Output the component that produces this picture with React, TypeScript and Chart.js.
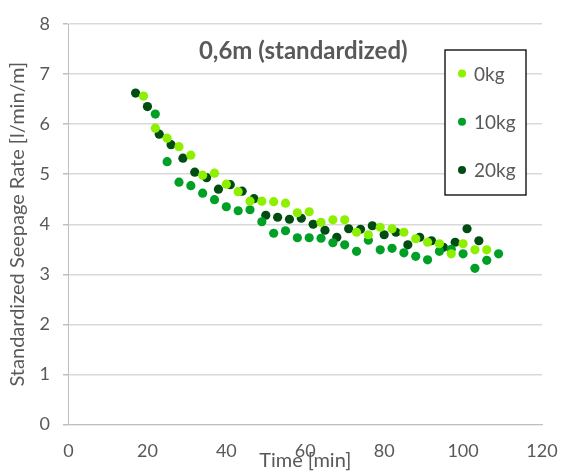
import React, { useEffect, useRef } from "react";
import { Chart, registerables } from "chart.js";

Chart.register(...registerables);

const chartTitle = "0,6m (standardized)";
const xAxisTitle = "Time [min]";
const yAxisTitle = "Standardized Seepage Rate [l/min/m]";
const seriesNames = ["0kg", "10kg", "20kg"];
const seriesColors = ["#8CF000", "#00A026", "#004D12"];

const time0kg = [19, 22, 25, 28, 31, 34, 37, 40, 43, 46, 49, 52, 55, 58, 61, 64, 67, 70, 73, 76, 79, 82, 85, 88, 91, 94, 97, 100, 103, 106];
const rate0kg = [6.56, 5.92, 5.72, 5.55, 5.38, 4.98, 5.02, 4.8, 4.65, 4.46, 4.46, 4.45, 4.42, 4.23, 4.25, 4.04, 4.09, 4.09, 3.84, 3.79, 3.94, 3.91, 3.84, 3.71, 3.64, 3.61, 3.41, 3.61, 3.49, 3.49];

const time10kg = [22, 25, 28, 31, 34, 37, 40, 43, 46, 49, 52, 55, 58, 61, 64, 67, 70, 73, 76, 79, 82, 85, 88, 91, 94, 97, 100, 103, 106, 109];
const rate10kg = [6.2, 5.25, 4.84, 4.77, 4.62, 4.49, 4.35, 4.27, 4.29, 4.05, 3.82, 3.87, 3.73, 3.73, 3.72, 3.63, 3.59, 3.46, 3.68, 3.49, 3.52, 3.43, 3.36, 3.29, 3.46, 3.5, 3.41, 3.12, 3.28, 3.41];

const time20kg = [17, 20, 23, 26, 29, 32, 35, 38, 41, 44, 47, 50, 53, 56, 59, 62, 65, 68, 71, 74, 77, 80, 83, 86, 89, 92, 95, 98, 101, 104];
const rate20kg = [6.62, 6.35, 5.8, 5.59, 5.32, 5.04, 4.93, 4.7, 4.79, 4.66, 4.51, 4.18, 4.14, 4.1, 4.12, 4.0, 3.88, 3.74, 3.91, 3.9, 3.97, 3.79, 3.84, 3.59, 3.74, 3.67, 3.54, 3.64, 3.91, 3.67];

const xTicks = [0, 20, 40, 60, 80, 100, 120];
const yTicks = [0, 1, 2, 3, 4, 5, 6, 7, 8];

const FONT = "Lato, 'Open Sans', sans-serif";
const TEXT = "#595959";

const toPoints = (xs: number[], ys: number[]) => xs.map((x, i) => ({ x, y: ys[i] }));

const titlePlugin = {
  id: "innerTitle",
  afterDraw(chart: any) {
    const { ctx, chartArea } = chart;
    ctx.save();
    ctx.font = `bold 24px ${FONT}`;
    ctx.fillStyle = TEXT;
    ctx.textAlign = "center";
    ctx.textBaseline = "middle";
    ctx.fillText(chartTitle, (chartArea.left + chartArea.right) / 2 - 2, chartArea.top + 27);
    ctx.restore();
  },
};

const legendPlugin = {
  id: "boxLegend",
  afterDraw(chart: any) {
    const { ctx, chartArea } = chart;
    const right = chartArea.right - 16;
    const left = right - 81;
    const top = chartArea.top + 26;
    const height = 145;
    ctx.save();
    ctx.fillStyle = "#ffffff";
    ctx.fillRect(left, top, right - left, height);
    ctx.strokeStyle = "#000000";
    ctx.lineWidth = 1.3;
    ctx.strokeRect(left, top, right - left, height);
    ctx.font = `19px ${FONT}`;
    ctx.textBaseline = "middle";
    ctx.textAlign = "left";
    chart.data.datasets.forEach((ds: any, i: number) => {
      const y = top + 23.5 + i * 48.3;
      ctx.beginPath();
      ctx.arc(left + 17, y, 4, 0, Math.PI * 2);
      ctx.fillStyle = ds.backgroundColor;
      ctx.fill();
      ctx.fillStyle = TEXT;
      ctx.fillText(ds.label, left + 29, y + 1);
    });
    ctx.restore();
  },
};

export default function App() {
  const ref = useRef<HTMLCanvasElement | null>(null);

  useEffect(() => {
    if (!ref.current) return;
    const chart = new Chart(ref.current, {
      type: "scatter",
      data: {
        datasets: [
          { label: seriesNames[0], data: toPoints(time0kg, rate0kg), backgroundColor: seriesColors[0], borderColor: seriesColors[0] },
          { label: seriesNames[1], data: toPoints(time10kg, rate10kg), backgroundColor: seriesColors[1], borderColor: seriesColors[1] },
          { label: seriesNames[2], data: toPoints(time20kg, rate20kg), backgroundColor: seriesColors[2], borderColor: seriesColors[2] },
        ],
      },
      options: {
        animation: false,
        responsive: false,
        devicePixelRatio: 1,
        layout: { padding: { left: 0, right: 22, top: 24, bottom: 0 } },
        elements: { point: { radius: 4.6, borderWidth: 0, hoverRadius: 4.6 } },
        plugins: {
          legend: { display: false },
          title: { display: false },
          tooltip: { enabled: false },
        },
        scales: {
          x: {
            type: "linear",
            min: 0,
            max: 120,
            afterBuildTicks: (axis: any) => {
              axis.ticks = xTicks.map((v) => ({ value: v }));
            },
            afterFit: (axis: any) => {
              axis.height = 48.5;
              axis.paddingLeft = 0;
              axis.paddingRight = 0;
            },
            grid: { display: false, drawTicks: false },
            border: { display: true, color: "#bfbfbf", width: 1 },
            ticks: { color: TEXT, font: { family: FONT, size: 18 }, padding: 16, maxRotation: 0 },
            title: {
              display: true,
              text: xAxisTitle,
              color: TEXT,
              font: { family: FONT, size: 20 },
              padding: { top: 0, bottom: 0 },
            },
          },
          y: {
            type: "linear",
            min: 0,
            max: 8,
            afterBuildTicks: (axis: any) => {
              axis.ticks = yTicks.map((v) => ({ value: v }));
            },
            afterFit: (axis: any) => {
              axis.width = 68.5;
              axis.paddingTop = 0;
              axis.paddingBottom = 0;
            },
            grid: { color: "#d9d9d9", lineWidth: 1.5, tickLength: 5.5, tickColor: "#bfbfbf" },
            border: { display: true, color: "#bfbfbf", width: 1 },
            ticks: { color: TEXT, font: { family: FONT, size: 18 }, padding: 13 },
            title: {
              display: true,
              text: yAxisTitle,
              color: TEXT,
              font: { family: FONT, size: 20 },
              padding: { top: 6, bottom: 0 },
            },
          },
        },
      },
      plugins: [titlePlugin, legendPlugin],
    } as any);
    return () => chart.destroy();
  }, []);

  return (
    <div style={{ position: "absolute", left: 0, top: 0, width: 564, height: 473, background: "#fff" }}>
      <canvas ref={ref} width={564} height={473} style={{ display: "block" }} />
    </div>
  );
}
